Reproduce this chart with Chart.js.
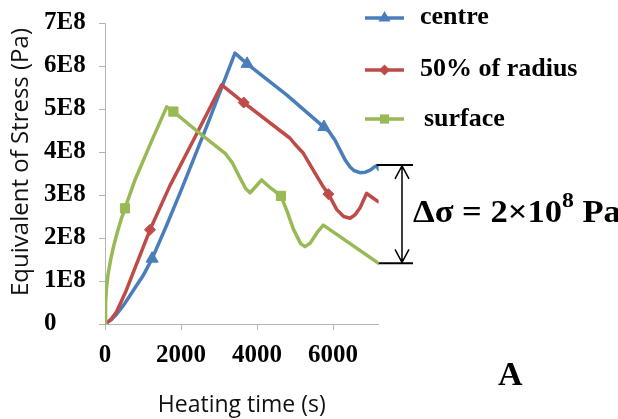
<!DOCTYPE html>
<html>
<head>
<meta charset="utf-8">
<script src="https://cdn.jsdelivr.net/npm/chart.js@4.4.1/dist/chart.umd.min.js"></script>
<style>
  html, body { margin: 0; padding: 0; background: #fff; }
  #wrap { width: 618px; height: 419px; position: relative; }
</style>
</head>
<body>
<div id="wrap"><canvas id="c"></canvas></div>
<script>
// ---- data (time in s, stress in units of 1E8 Pa) ----
const seriesNames = ['centre', '50% of radius', 'surface'];

const centreTime   = [0, 150, 300, 500, 700, 1000, 1240, 1600, 2000, 2700, 3420, 3740, 4780, 5760, 5900, 6050, 6200, 6330, 6450, 6550, 6710, 6850, 6980, 7100, 7150, 7200];
const centreStress = [0, 0.09, 0.22, 0.45, 0.72, 1.12, 1.52, 2.25, 3.1, 4.65, 6.3, 6.05, 5.33, 4.58, 4.47, 4.28, 4.02, 3.8, 3.65, 3.57, 3.52, 3.53, 3.58, 3.66, 3.68, 3.6];
const centreMarkers = [1240, 3740, 5760];

const radiusTime   = [0, 150, 300, 530, 1184, 1700, 2400, 3070, 3650, 4870, 5000, 5220, 5480, 5745, 5880, 6100, 6280, 6450, 6580, 6710, 6886, 7050, 7200];
const radiusStress = [0, 0.1, 0.28, 0.72, 2.19, 3.2, 4.4, 5.56, 5.15, 4.32, 4.18, 3.97, 3.58, 3.19, 3.02, 2.66, 2.5, 2.46, 2.54, 2.7, 3.04, 2.93, 2.84];
const radiusMarkers = [1184, 3650, 5880];

const surfaceTime   = [0, 15, 40, 80, 150, 230, 320, 420, 526, 789, 1200, 1623, 1800, 2500, 3160, 3350, 3550, 3700, 3816, 3950, 4120, 4350, 4630, 4800, 4960, 5150, 5263, 5400, 5600, 5745, 7200];
const surfaceStress = [0, 0.5, 0.85, 1.15, 1.5, 1.82, 2.12, 2.42, 2.69, 3.35, 4.2, 5.05, 4.94, 4.43, 3.97, 3.75, 3.4, 3.15, 3.05, 3.18, 3.35, 3.17, 2.98, 2.6, 2.2, 1.87, 1.8, 1.88, 2.15, 2.3, 1.41];
const surfaceMarkers = [526, 1800, 4630];

const xTicks = [0, 2000, 4000, 6000];
const yTicks = [0, 1, 2, 3, 4, 5, 6, 7];
const deltaTop = 3.7, deltaBottom = 1.41;   // levels bracketed by the Δσ annotation (E8 Pa)

const UNIT = 1e8;
const colors = ['#4a7ebb', '#be4b48', '#98b954'];
const styles = ['triangle', 'rectRot', 'rect'];
const radii = [7, 5.5, 6.5];

function pts(t, s) { return t.map((x, i) => ({ x: x, y: s[i] * UNIT })); }

const allMarkers = [centreMarkers, radiusMarkers, surfaceMarkers];
const datasets = [pts(centreTime, centreStress), pts(radiusTime, radiusStress), pts(surfaceTime, surfaceStress)]
  .map((d, k) => ({
    label: seriesNames[k],
    data: d,
    borderColor: colors[k],
    backgroundColor: colors[k],
    borderWidth: 3.5,
    tension: 0,
    pointStyle: styles[k],
    pointRadius: ctx => (ctx.raw && allMarkers[k].includes(ctx.raw.x)) ? radii[k] : 0,
    pointHoverRadius: 0,
    pointBorderWidth: 1,
    borderCapStyle: 'round',
    borderJoinStyle: 'round'
  }));
datasets.reverse();

function drawMarker(ctx, style, x, y, r) {
  ctx.beginPath();
  if (style === 'triangle') {
    ctx.moveTo(x, y - r);
    ctx.lineTo(x + r * 0.866, y + r * 0.5);
    ctx.lineTo(x - r * 0.866, y + r * 0.5);
  } else if (style === 'rectRot') {
    ctx.moveTo(x, y - r); ctx.lineTo(x + r, y); ctx.lineTo(x, y + r); ctx.lineTo(x - r, y);
  } else {
    const s = r * Math.SQRT1_2;
    ctx.rect(x - s, y - s, 2 * s, 2 * s);
  }
  ctx.closePath();
  ctx.fill();
}

const decor = {
  id: 'decor',
  afterDraw(chart) {
    const ctx = chart.ctx;
    const ys = chart.scales.y;
    ctx.save();

    // axis titles
    ctx.fillStyle = '#111';
    ctx.textAlign = 'center';
    ctx.textBaseline = 'alphabetic';
    ctx.font = '23px "Open Sans"';
    ctx.fillText('Heating time (s)', (chart.chartArea.left + chart.chartArea.right) / 2, 412);
    ctx.save();
    ctx.translate(28, 162);
    ctx.rotate(-Math.PI / 2);
    ctx.font = '24px "Open Sans"';
    ctx.fillText('Equivalent of Stress (Pa)', 0, 0);
    ctx.restore();

    // legend
    const rowsLine = [18, 70, 119];
    const rowsText = [24, 76, 126];
    const textX = [420, 420, 424];
    for (let k = 0; k < 3; k++) {
      ctx.strokeStyle = colors[k];
      ctx.fillStyle = colors[k];
      ctx.lineWidth = 3.5;
      ctx.beginPath();
      ctx.moveTo(365, rowsLine[k]);
      ctx.lineTo(404, rowsLine[k]);
      ctx.stroke();
      drawMarker(ctx, styles[k], 384.5, rowsLine[k], radii[k]);
      ctx.fillStyle = '#000';
      ctx.font = 'bold 26px "Liberation Serif"';
      ctx.textAlign = 'left';
      ctx.textBaseline = 'alphabetic';
      ctx.fillText(seriesNames[k], textX[k], rowsText[k]);
    }

    // Δσ annotation
    const yT = ys.getPixelForValue(deltaTop * UNIT);
    const yB = ys.getPixelForValue(deltaBottom * UNIT);
    const xr = chart.chartArea.right;
    ctx.strokeStyle = '#000';
    ctx.lineWidth = 2;
    ctx.beginPath();
    ctx.moveTo(xr - 2, yT); ctx.lineTo(413, yT);
    ctx.moveTo(xr, yB); ctx.lineTo(413, yB);
    ctx.stroke();
    ctx.lineWidth = 1.5;
    const ax = 402;
    ctx.beginPath();
    ctx.moveTo(ax, yT + 1); ctx.lineTo(ax, yB - 1);
    ctx.moveTo(ax - 7, yT + 14); ctx.lineTo(ax, yT + 1); ctx.lineTo(ax + 7, yT + 14);
    ctx.moveTo(ax - 7, yB - 14); ctx.lineTo(ax, yB - 1); ctx.lineTo(ax + 7, yB - 14);
    ctx.stroke();

    ctx.save();
    ctx.translate(413, 222);
    ctx.scale(1.08, 1);
    ctx.fillStyle = '#000';
    ctx.textAlign = 'left';
    ctx.textBaseline = 'alphabetic';
    ctx.font = 'bold 32px "Liberation Serif"';
    const p1 = 'Δσ = 2×10';
    ctx.fillText(p1, 0, 0);
    let w = ctx.measureText(p1).width;
    ctx.font = 'bold 22px "Liberation Serif"';
    ctx.fillText('8', w, -15);
    w += ctx.measureText('8').width;
    ctx.font = 'bold 32px "Liberation Serif"';
    ctx.fillText(' Pa', w, 0);
    ctx.restore();

    // panel letter
    ctx.font = 'bold 34px "Liberation Serif"';
    ctx.fillStyle = '#000';
    ctx.textAlign = 'left';
    ctx.fillText('A', 498, 385);

    ctx.restore();
  }
};

new Chart(document.getElementById('c'), {
  type: 'line',
  data: { datasets: datasets },
  options: {
    responsive: true,
    maintainAspectRatio: false,
    animation: false,
    events: [],
    layout: { padding: { left: 44, right: 239.4, top: 23, bottom: 0 } },
    plugins: { legend: { display: false }, tooltip: { enabled: false } },
    scales: {
      x: {
        type: 'linear',
        min: 0, max: 7200,
        afterBuildTicks: s => { s.ticks = xTicks.map(v => ({ value: v })); },
        afterFit: s => { s.height = 95; },
        ticks: {
          color: '#000',
          font: { family: '"Liberation Serif"', size: 25, weight: 'bold' },
          padding: 11,
          maxRotation: 0,
          callback: v => String(v)
        },
        grid: { display: true, drawOnChartArea: false, drawTicks: true, tickLength: 6, color: '#b5b5b5' },
        border: { color: '#b5b5b5', width: 1 }
      },
      y: {
        type: 'linear',
        min: 0, max: 7 * UNIT,
        afterBuildTicks: s => { s.ticks = yTicks.map(v => ({ value: v * UNIT })); },
        afterFit: s => { s.width = 61; },
        ticks: {
          color: '#000',
          font: { family: '"Liberation Serif"', size: 25, weight: 'bold' },
          crossAlign: 'far',
          padding: 8,
          callback: v => v === 0 ? '0' : (v / UNIT) + 'E8'
        },
        grid: { display: true, drawOnChartArea: false, drawTicks: true, tickLength: 6, color: '#b5b5b5' },
        border: { color: '#b5b5b5', width: 1 }
      }
    }
  },
  plugins: [decor]
});
</script>
</body>
</html>
